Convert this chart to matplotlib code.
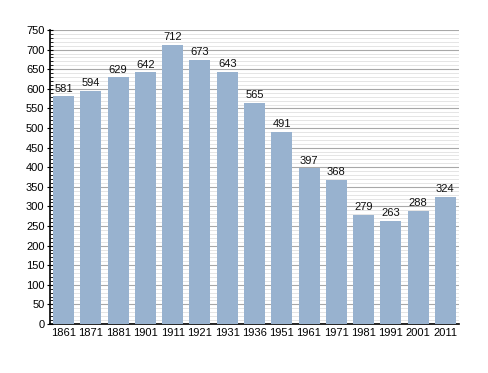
import matplotlib.pyplot as plt
import numpy as np
from matplotlib.ticker import MultipleLocator

years = ['1861', '1871', '1881', '1901', '1911', '1921', '1931', '1936',
         '1951', '1961', '1971', '1981', '1991', '2001', '2011']
population = [581, 594, 629, 642, 712, 673, 643, 565, 491, 397, 368, 279, 263, 288, 324]

plt.rcParams['font.family'] = ['Liberation Sans', 'DejaVu Sans']

fig = plt.figure(figsize=(4.88, 3.73), dpi=100)
ax = fig.add_axes([0.1025, 0.1314, 0.838, 0.788])

x = np.arange(len(years))
ax.bar(x, population, width=0.77, color='#98b2cf', zorder=3)
for xi, v in zip(x, population):
    ax.text(xi, v + 7, str(v), ha='center', va='bottom', fontsize=8, color='#111111', zorder=4)

ax.set_xlim(-0.5, len(years) - 0.5)
ax.set_ylim(0, 750)
ax.yaxis.set_major_locator(MultipleLocator(50))
ax.yaxis.set_minor_locator(MultipleLocator(10))
ax.grid(axis='y', which='major', color='#a8a8a8', lw=0.8, zorder=0)
ax.grid(axis='y', which='minor', color='#e0e0e0', lw=0.6, zorder=0)
ax.set_xticks(x)
ax.set_xticklabels(years)
ax.tick_params(axis='x', length=0, labelsize=8, pad=3)
ax.tick_params(axis='y', which='major', length=4, direction='inout', labelsize=8, pad=2)
ax.tick_params(axis='y', which='minor', length=2.5, direction='in')
for s in ['top', 'right']:
    ax.spines[s].set_visible(False)
ax.spines['left'].set_linewidth(1.2)
ax.spines['bottom'].set_linewidth(1.2)

fig.savefig('out.png', dpi=100)
